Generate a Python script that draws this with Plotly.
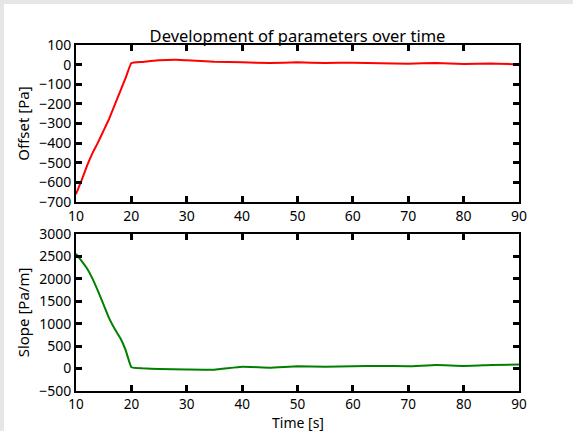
import plotly.graph_objects as go

# Data
time_offset = [10, 11, 12, 13, 14, 15, 16, 17, 18, 19, 20, 22, 25, 28, 30, 35, 40, 45, 50, 55, 60, 65, 70, 75, 80, 85, 90]
offset_vals = [-660, -590, -515, -450, -395, -335, -275, -205, -135, -65, 8, 14, 22, 25, 22, 15, 12, 8, 12, 8, 10, 7, 5, 8, 3, 6, 2]

time_slope = [10, 11, 12, 13, 14, 15, 16, 17, 18, 19, 20, 22, 25, 30, 35, 40, 45, 50, 55, 60, 65, 70, 75, 80, 85, 90]
slope_vals = [2560, 2400, 2230, 2000, 1720, 1420, 1120, 880, 680, 400, 30, 5, -10, -20, -25, 40, 20, 50, 40, 50, 60, 50, 80, 60, 80, 90]

x_ticks = [10, 20, 30, 40, 50, 60, 70, 80, 90]
off_ticks = [100, 0, -100, -200, -300, -400, -500, -600, -700]
slope_ticks = [3000, 2500, 2000, 1500, 1000, 500, 0, -500]

FONT = "Noto Sans"

fig = go.Figure()
fig.add_trace(go.Scatter(x=time_offset, y=offset_vals, mode="lines",
                         line=dict(color="#ff0000", width=2, shape="spline", smoothing=0.3),
                         xaxis="x", yaxis="y", showlegend=False))
fig.add_trace(go.Scatter(x=time_slope, y=slope_vals, mode="lines",
                         line=dict(color="#008000", width=2, shape="spline", smoothing=0.3),
                         xaxis="x2", yaxis="y2", showlegend=False))

L, R, T, B = 76, 54, 45, 40
W, H = 573, 431
pw, ph = W - L - R, H - T - B
dom_h = 157 / ph

axis_common = dict(showline=True, linecolor="black", linewidth=2, mirror="allticks",
                   ticks="inside", ticklen=6, tickwidth=3, tickcolor="black",
                   showgrid=False, zeroline=False, automargin=False,
                   tickfont=dict(family=FONT, size=14, color="black"))

title_font = dict(family=FONT, size=15, color="black")

fig.update_layout(
    width=W, height=H,
    margin=dict(l=L, r=R, t=T, b=B, autoexpand=False),
    paper_bgcolor="white", plot_bgcolor="white",
    title=dict(text="Development of parameters over time", x=(L + pw / 2) / W, xanchor="center",
               y=1 - 36 / H, yanchor="middle", automargin=False,
               font=dict(family=FONT, size=16.5, color="black")),
    xaxis=dict(axis_common, range=[10, 90], tickvals=x_ticks, anchor="y", domain=[0, 1]),
    yaxis=dict(axis_common, range=[-700, 100], tickvals=off_ticks, anchor="x",
               domain=[1 - dom_h, 1],
               title=dict(text="Offset [Pa]", font=title_font, standoff=6)),
    xaxis2=dict(axis_common, range=[10, 90], tickvals=x_ticks, anchor="y2", domain=[0, 1],
                tickfont=dict(family=FONT, size=13.5, color="black")),
    yaxis2=dict(axis_common, range=[-500, 3000], tickvals=slope_ticks, anchor="x2",
                domain=[0, dom_h],
                title=dict(text="Slope [Pa/m]", font=title_font, standoff=6)),
    annotations=[
        dict(text="Time [s]", xref="paper", yref="paper", x=0.5, y=-(422 - (H - B)) / ph,
             xanchor="center", yanchor="middle", showarrow=False, borderpad=0,
             font=dict(family=FONT, size=14, color="black")),
    ],
    shapes=[
        dict(type="rect", xref="paper", yref="paper", x0=-L / pw, x1=(-L + 4) / pw,
             y0=-B / ph, y1=1 + T / ph, fillcolor="#e6e6e6", line=dict(width=0), layer="below"),
        dict(type="rect", xref="paper", yref="paper", x0=-L / pw, x1=1 + R / pw,
             y0=1 + (T - 4) / ph, y1=1 + T / ph, fillcolor="#e6e6e6", line=dict(width=0), layer="below"),
    ],
)

fig.write_html("out.html")
